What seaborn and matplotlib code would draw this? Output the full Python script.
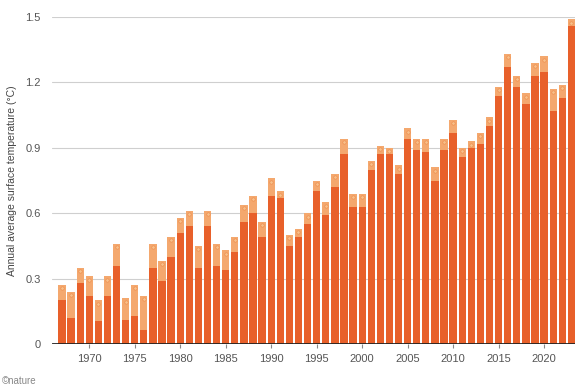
import numpy as np
import pandas as pd
import matplotlib.pyplot as plt
import seaborn as sns

years = list(range(1967, 2024))
# dark bar: central estimate; light top: warmest dataset
low = [0.20, 0.12, 0.28, 0.22, 0.105, 0.22, 0.36, 0.11, 0.13, 0.065,
       0.35, 0.29, 0.40, 0.51, 0.54, 0.35, 0.54, 0.36, 0.34, 0.42,
       0.56, 0.60, 0.49, 0.68, 0.67, 0.45, 0.49, 0.55, 0.70, 0.59,
       0.72, 0.87, 0.63, 0.63, 0.80, 0.87, 0.87, 0.78, 0.94, 0.89,
       0.88, 0.75, 0.89, 0.97, 0.86, 0.90, 0.92, 1.00, 1.14, 1.27,
       1.18, 1.10, 1.23, 1.25, 1.07, 1.13, 1.46]
high = [0.27, 0.24, 0.35, 0.31, 0.20, 0.31, 0.46, 0.21, 0.27, 0.22,
        0.46, 0.38, 0.49, 0.58, 0.61, 0.45, 0.61, 0.46, 0.43, 0.49,
        0.64, 0.68, 0.56, 0.76, 0.70, 0.50, 0.53, 0.60, 0.75, 0.65,
        0.78, 0.94, 0.69, 0.69, 0.84, 0.91, 0.90, 0.82, 0.99, 0.94,
        0.94, 0.81, 0.94, 1.03, 0.90, 0.93, 0.97, 1.04, 1.18, 1.33,
        1.23, 1.15, 1.29, 1.32, 1.17, 1.19, 1.49]

df = pd.DataFrame({'Year': years, 'Low': low, 'High': high})

sns.set_style('white')
plt.rcParams['font.family'] = ['Liberation Sans', 'DejaVu Sans']

fig = plt.figure(figsize=(5.75, 3.92), dpi=100)
ax = fig.add_axes([0.0904, 0.1224, 0.9096, 0.834])

for v in [0.3, 0.6, 0.9, 1.2, 1.5]:
    ax.axhline(v, color='#cfcfcf', lw=0.8, zorder=0)

sns.barplot(data=df, x='Year', y='High', native_scale=True, width=0.8,
            color='#F4A86E', saturation=1, edgecolor='none', ax=ax, zorder=2)
sns.barplot(data=df, x='Year', y='Low', native_scale=True, width=0.8,
            color='#E8602A', saturation=1, edgecolor='none', ax=ax, zorder=3)
ax.scatter(df['Year'], df['High'] - 0.015, s=6, color='#F7C08A',
           edgecolor='#EE8A4A', linewidth=0.4, zorder=4)

ax.axhline(0, color='#222222', lw=2, zorder=5)

ax.set_xlim(1965.9, 2023.4)
ax.set_ylim(0, 1.5)
ax.set_yticks([0, 0.3, 0.6, 0.9, 1.2, 1.5])
ax.set_yticklabels(['0', '0.3', '0.6', '0.9', '1.2', '1.5'])
ax.set_xticks(range(1970, 2021, 5))
ax.set_xticklabels([str(y) for y in range(1970, 2021, 5)])
ax.tick_params(axis='y', length=0, pad=8, labelsize=8, labelcolor='#555555')
ax.tick_params(axis='x', length=3, width=0.8, color='#888888', pad=4,
               labelsize=8, labelcolor='#555555', bottom=True)
ax.set_xlabel('')
ax.set_ylabel('Annual average surface temperature (°C)', fontsize=7.5,
              color='#444444', labelpad=6)
sns.despine(ax=ax, left=True, bottom=True)

fig.text(0.004, 0.02, '©nature', fontsize=7, color='#888888')

fig.savefig('out.png', dpi=100)
